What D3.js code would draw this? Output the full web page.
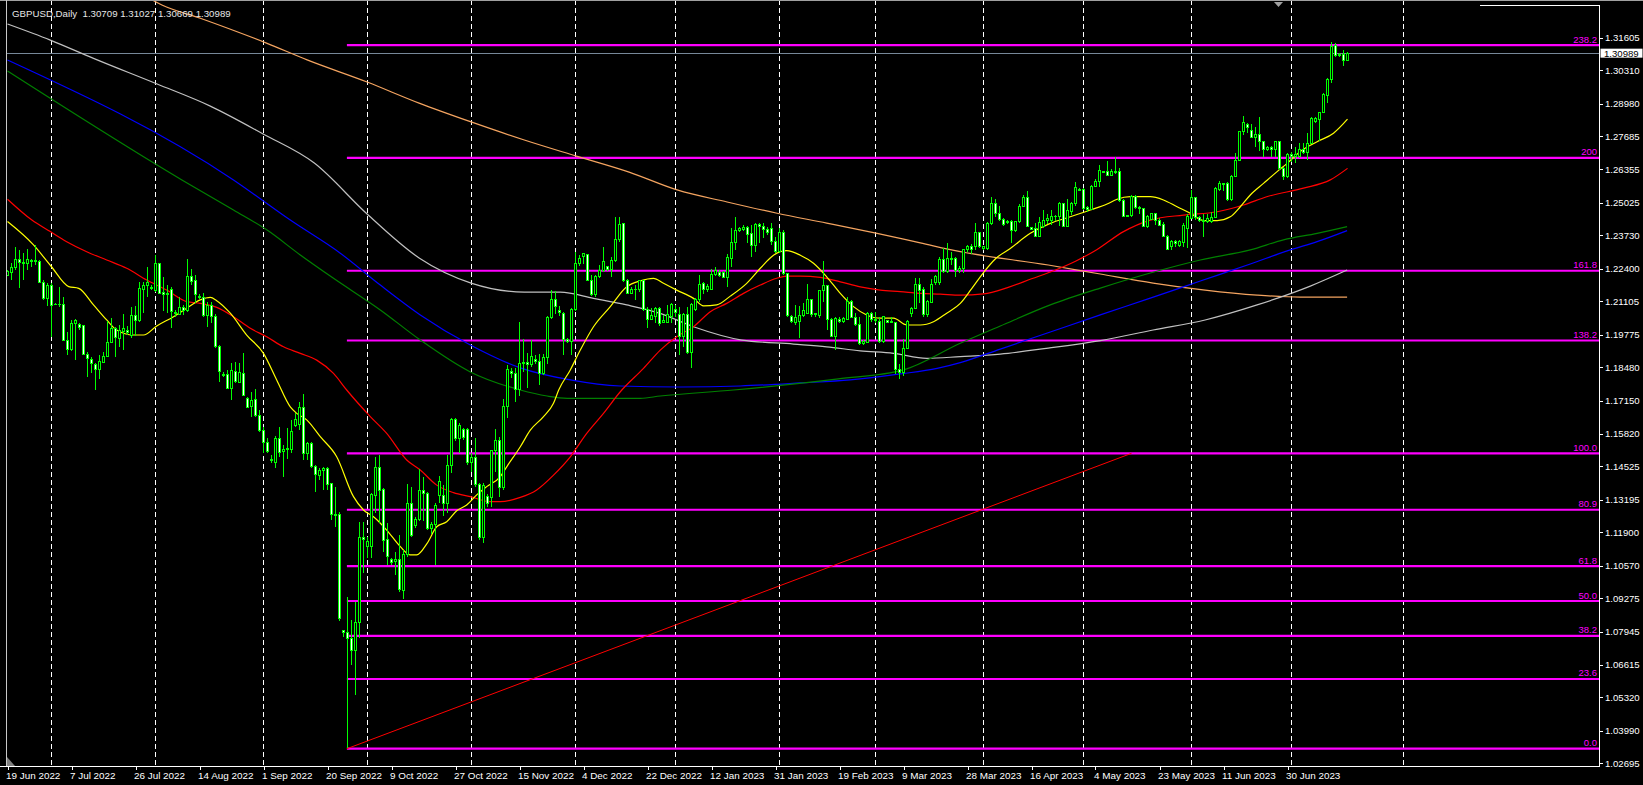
<!DOCTYPE html>
<html><head><meta charset="utf-8">
<script src="https://cdn.jsdelivr.net/npm/d3@7"></script>
<style>
html,body{margin:0;padding:0;background:#000;overflow:hidden}
svg{display:block}
text{font-family:"Liberation Sans",Arial,sans-serif;white-space:pre}
</style></head><body>
<svg id="c" width="1643" height="785"></svg>
<script>
// ---------- DATA ----------
const symbolTitle = "GBPUSD,Daily  1.30709 1.31027 1.30669 1.30989";
const lastPrice = 1.30989;
const openP=[1.2215,1.2226,1.2245,1.2277,1.2264,1.2261,1.2272,1.2267,1.2268,1.2184,1.2122,1.2175,1.2097,1.2098,1.2098,1.1956,1.1919,1.2020,1.2018,1.2014,1.1900,1.1879,1.1860,1.1839,1.1866,1.1892,1.1948,1.2002,1.1963,1.1989,1.1996,1.1976,1.2055,1.2033,1.2158,1.2172,1.2166,1.2155,1.2259,1.2144,1.2138,1.2159,1.2067,1.2059,1.2086,1.2073,1.2211,1.2195,1.2131,1.2126,1.2052,1.2095,1.2049,1.1929,1.1820,1.1820,1.1763,1.1830,1.1786,1.1823,1.1724,1.1690,1.1719,1.1657,1.1597,1.1547,1.1481,1.1467,1.1564,1.1510,1.1518,1.1518,1.1617,1.1621,1.1688,1.1502,1.1545,1.1452,1.1415,1.1436,1.1445,1.1383,1.1259,1.1262,1.0797,1.0790,1.0768,1.0721,1.0831,1.1170,1.1133,1.1133,1.1335,1.1449,1.1359,1.1162,1.1080,1.1073,1.1080,1.0960,1.1100,1.1303,1.1219,1.1242,1.1355,1.1343,1.1206,1.1222,1.1335,1.1337,1.1306,1.1458,1.1640,1.1564,1.1598,1.1598,1.1467,1.1489,1.1381,1.1170,1.1332,1.1329,1.1514,1.1554,1.1368,1.1693,1.1830,1.1822,1.1757,1.1862,1.1866,1.1860,1.1880,1.1870,1.1822,1.1888,1.2046,1.2118,1.2075,1.2060,1.1959,1.1950,1.2076,1.2259,1.2288,1.2295,1.2195,1.2136,1.2209,1.2235,1.2249,1.2238,1.2272,1.2355,1.2421,1.2193,1.2142,1.2158,1.2156,1.2193,1.2079,1.2039,1.2049,1.2083,1.2027,1.2025,1.2049,1.2076,1.2056,1.1970,1.2056,1.1906,1.2079,1.2116,1.2182,1.2156,1.2158,1.2219,1.2225,1.2225,1.2206,1.2282,1.2344,1.2392,1.2397,1.2405,1.2379,1.2331,1.2415,1.2408,1.2397,1.2401,1.2348,1.2308,1.2385,1.2222,1.2049,1.2027,1.2029,1.2052,1.2063,1.2116,1.2056,1.2052,1.2152,1.2172,1.2039,1.1972,1.2039,1.2029,1.2039,1.2109,1.2047,1.2016,1.1943,1.1946,1.2063,1.2036,1.2029,1.1950,1.2033,1.2025,1.2025,1.1837,1.1828,1.1923,1.2060,1.2083,1.2179,1.2156,1.2056,1.2105,1.2185,1.2185,1.2278,1.2229,1.2282,1.2282,1.2235,1.2240,1.2317,1.2330,1.2328,1.2383,1.2321,1.2321,1.2421,1.2500,1.2460,1.2437,1.2423,1.2427,1.2391,1.2427,1.2490,1.2524,1.2403,1.2401,1.2370,1.2410,1.2431,1.2431,1.2447,1.2447,1.2500,1.2410,1.2467,1.2498,1.2556,1.2556,1.2484,1.2476,1.2569,1.2587,1.2629,1.2629,1.2613,1.2626,1.2626,1.2511,1.2447,1.2454,1.2527,1.2484,1.2480,1.2410,1.2437,1.2460,1.2434,1.2418,1.2370,1.2328,1.2348,1.2334,1.2344,1.2401,1.2441,1.2524,1.2445,1.2434,1.2427,1.2427,1.2445,1.2556,1.2575,1.2580,1.2514,1.2609,1.2673,1.2786,1.2816,1.2792,1.2763,1.2773,1.2746,1.2715,1.2723,1.2715,1.2746,1.2640,1.2609,1.2697,1.2686,1.2689,1.2716,1.2702,1.2740,1.2826,1.2835,1.2862,1.2932,1.2995,1.3131,1.3088,1.3092,1.30709];
const highP=[1.2235,1.2261,1.2325,1.2315,1.2301,1.2317,1.2277,1.2334,1.2275,1.2195,1.2182,1.2182,1.2102,1.2168,1.2126,1.1989,1.2036,1.2041,1.2025,1.2017,1.1909,1.1890,1.1863,1.1896,1.1909,1.2033,1.2042,1.2009,1.2016,1.2058,1.2012,1.2086,1.2091,1.2188,1.2188,1.2248,1.2175,1.2295,1.2261,1.2206,1.2175,1.2168,1.2075,1.2129,1.2095,1.2277,1.2241,1.2215,1.2139,1.2142,1.2109,1.2109,1.2059,1.1936,1.1830,1.1836,1.1863,1.1870,1.1863,1.1903,1.1730,1.1750,1.1759,1.1677,1.1611,1.1564,1.1498,1.1573,1.1608,1.1538,1.1604,1.1637,1.1664,1.1710,1.1741,1.1551,1.1551,1.1458,1.1445,1.1452,1.1452,1.1388,1.1369,1.1272,1.0801,1.0934,1.0841,1.0914,1.1232,1.1232,1.1173,1.1345,1.1491,1.1498,1.1365,1.1226,1.1086,1.1113,1.1179,1.1120,1.1382,1.1372,1.1252,1.1442,1.1409,1.1352,1.1232,1.1306,1.1414,1.1379,1.1498,1.1644,1.1644,1.1624,1.1604,1.1604,1.1505,1.1564,1.1385,1.1385,1.1343,1.1518,1.1600,1.1568,1.1720,1.1855,1.1845,1.1845,1.2029,1.1962,1.1905,1.1955,1.1895,1.1900,1.1900,1.2050,1.2154,1.2153,1.2090,1.2069,1.1963,1.2083,1.2308,1.2295,1.2304,1.2295,1.2215,1.2215,1.2255,1.2326,1.2251,1.2288,1.2445,1.2445,1.2424,1.2198,1.2169,1.2176,1.2195,1.2195,1.2089,1.2083,1.2089,1.2087,1.2056,1.2096,1.2102,1.2096,1.2087,1.2063,1.2089,1.2102,1.2122,1.2215,1.2189,1.2179,1.2238,1.2246,1.2235,1.2233,1.2299,1.2401,1.2448,1.2408,1.2415,1.2411,1.2415,1.2421,1.2421,1.2421,1.2408,1.2421,1.2368,1.2401,1.2395,1.2225,1.2056,1.2096,1.2092,1.2105,1.2179,1.2118,1.2065,1.2156,1.2272,1.2176,1.2043,1.2049,1.2049,1.2049,1.2129,1.2116,1.2063,1.2049,1.1956,1.2069,1.2069,1.2069,1.2049,1.2052,1.2036,1.2047,1.2029,1.1862,1.1960,1.2036,1.2089,1.2202,1.2202,1.2169,1.2116,1.2198,1.2215,1.2288,1.2322,1.2342,1.2308,1.2288,1.2250,1.2320,1.2334,1.2340,1.2423,1.2387,1.2330,1.2427,1.2524,1.2516,1.2490,1.2441,1.2434,1.2434,1.2431,1.2498,1.2534,1.2551,1.2407,1.2421,1.2447,1.2474,1.2460,1.2474,1.2454,1.2507,1.2503,1.2516,1.2507,1.2587,1.2560,1.2560,1.2490,1.2573,1.2596,1.2653,1.2630,1.2670,1.2636,1.2684,1.2640,1.2516,1.2455,1.2534,1.2534,1.2490,1.2484,1.2454,1.2463,1.2463,1.2441,1.2427,1.2374,1.2354,1.2354,1.2354,1.2421,1.2460,1.2553,1.2527,1.2450,1.2460,1.2460,1.2467,1.2564,1.2591,1.2583,1.2587,1.2613,1.2702,1.2790,1.2848,1.2822,1.2816,1.2806,1.2843,1.2750,1.2729,1.2729,1.2750,1.2750,1.2646,1.2702,1.2706,1.2724,1.2740,1.2742,1.2780,1.2846,1.2843,1.2866,1.2939,1.2999,1.3145,1.3141,1.3098,1.3111,1.31027];
const lowP=[1.2211,1.2195,1.2235,1.2162,1.2195,1.2235,1.2248,1.2255,1.2182,1.2115,1.2091,1.1969,1.2094,1.2089,1.1953,1.1896,1.1912,1.1876,1.1996,1.1896,1.1810,1.1823,1.1757,1.1799,1.1863,1.1890,1.1943,1.1890,1.1929,1.1916,1.1976,1.1963,1.1972,1.2029,1.2062,1.2129,1.2155,1.2148,1.2142,1.2073,1.2062,1.2002,1.2049,1.2055,1.2055,1.2069,1.2175,1.2102,1.2118,1.2046,1.2006,1.2022,1.1923,1.1790,1.1810,1.1759,1.1717,1.1786,1.1783,1.1733,1.1684,1.1651,1.1651,1.1591,1.1504,1.1504,1.1465,1.1445,1.1491,1.1412,1.1481,1.1504,1.1611,1.1597,1.1478,1.1478,1.1445,1.1352,1.1399,1.1359,1.1359,1.1239,1.1213,1.0838,1.0774,1.0332,1.0661,1.0542,1.0768,1.1027,1.1086,1.1086,1.1266,1.1226,1.1113,1.1060,1.1060,1.1020,1.0954,1.0923,1.1093,1.1173,1.1206,1.1236,1.1236,1.1199,1.1183,1.1060,1.1306,1.1255,1.1266,1.1428,1.1555,1.1507,1.1558,1.1458,1.1432,1.1372,1.1159,1.1146,1.1292,1.1292,1.1432,1.1332,1.1359,1.1645,1.1805,1.1710,1.1735,1.1830,1.1764,1.1850,1.1860,1.1778,1.1815,1.1860,1.2040,1.2058,1.2050,1.1897,1.1943,1.1897,1.2073,1.2249,1.2259,1.2193,1.2132,1.2129,1.2202,1.2229,1.2233,1.2209,1.2268,1.2348,1.2189,1.2140,1.2140,1.2116,1.2149,1.2073,1.2003,1.2036,1.2023,1.2010,1.2023,1.2023,1.2023,1.2049,1.1897,1.1930,1.1901,1.1844,1.2073,1.2109,1.2140,1.2149,1.2156,1.2211,1.2209,1.2202,1.2169,1.2246,1.2315,1.2388,1.2392,1.2342,1.2288,1.2308,1.2344,1.2361,1.2375,1.2335,1.2302,1.2302,1.2215,1.2047,1.2025,1.2016,1.1963,1.2049,1.2060,1.2049,1.2047,1.2043,1.2109,1.1996,1.1970,1.1917,1.2025,1.2023,1.2036,1.2043,1.2012,1.1936,1.1936,1.1943,1.2029,1.2025,1.1946,1.1943,1.2023,1.2023,1.1820,1.1802,1.1812,1.1919,1.2049,1.2079,1.2105,1.2049,1.2049,1.2102,1.2176,1.2176,1.2222,1.2222,1.2255,1.2209,1.2225,1.2225,1.2305,1.2300,1.2314,1.2321,1.2314,1.2314,1.2414,1.2445,1.2431,1.2410,1.2418,1.2344,1.2387,1.2421,1.2487,1.2407,1.2394,1.2370,1.2368,1.2401,1.2418,1.2414,1.2430,1.2410,1.2407,1.2407,1.2454,1.2490,1.2551,1.2474,1.2467,1.2474,1.2567,1.2567,1.2622,1.2609,1.2609,1.2617,1.2507,1.2445,1.2445,1.2447,1.2480,1.2458,1.2407,1.2401,1.2434,1.2414,1.2410,1.2365,1.2314,1.2314,1.2328,1.2328,1.2328,1.2321,1.2437,1.2434,1.2427,1.2368,1.2421,1.2421,1.2441,1.2551,1.2550,1.2511,1.2511,1.2604,1.2670,1.2773,1.2782,1.2759,1.2726,1.2710,1.2684,1.2710,1.2684,1.2684,1.2633,1.2593,1.2600,1.2666,1.2660,1.2680,1.2697,1.2673,1.2737,1.2822,1.2750,1.2859,1.2902,1.2981,1.3085,1.3082,1.3048,1.30669];
const closeP=[1.2228,1.2245,1.2277,1.2264,1.2259,1.2275,1.2267,1.2271,1.2184,1.2122,1.2175,1.2095,1.2098,1.2097,1.1956,1.1919,1.2022,1.2032,1.2006,1.1900,1.1882,1.1863,1.1839,1.1870,1.1892,1.1948,1.2002,1.1967,1.1993,1.2002,1.1985,1.2055,1.2033,1.2162,1.2175,1.2184,1.2162,1.2259,1.2142,1.2137,1.2142,1.2069,1.2062,1.2086,1.2073,1.2211,1.2188,1.2139,1.2125,1.2052,1.2095,1.2049,1.1929,1.1830,1.1815,1.1763,1.1834,1.1790,1.1826,1.1737,1.1688,1.1717,1.1657,1.1595,1.1547,1.1511,1.1475,1.1564,1.1507,1.1520,1.1524,1.1591,1.1641,1.1688,1.1502,1.1545,1.1452,1.1419,1.1436,1.1445,1.1379,1.1259,1.1257,1.0845,1.0790,1.0768,1.0721,1.0831,1.1170,1.1162,1.1153,1.1339,1.1449,1.1356,1.1159,1.1093,1.1069,1.1080,1.0963,1.1100,1.1303,1.1177,1.1243,1.1356,1.1343,1.1206,1.1223,1.1295,1.1394,1.1306,1.1458,1.1640,1.1564,1.1614,1.1568,1.1467,1.1489,1.1379,1.1170,1.1376,1.1306,1.1514,1.1554,1.1368,1.1693,1.1837,1.1822,1.1757,1.1862,1.1866,1.1860,1.1890,1.1870,1.1822,1.1888,1.2046,1.2118,1.2090,1.2065,1.1959,1.1950,1.2076,1.2259,1.2282,1.2299,1.2195,1.2136,1.2211,1.2235,1.2268,1.2238,1.2272,1.2355,1.2415,1.2193,1.2142,1.2158,1.2156,1.2193,1.2076,1.2039,1.2055,1.2083,1.2023,1.2032,1.2056,1.2096,1.2065,1.1970,1.2056,1.1906,1.2096,1.2118,1.2176,1.2156,1.2169,1.2219,1.2233,1.2214,1.2206,1.2286,1.2344,1.2392,1.2401,1.2405,1.2375,1.2331,1.2415,1.2408,1.2397,1.2384,1.2348,1.2308,1.2385,1.2222,1.2052,1.2029,1.2047,1.2052,1.2073,1.2116,1.2056,1.2063,1.2152,1.2172,1.2039,1.1972,1.2043,1.2029,1.2043,1.2109,1.2047,1.2016,1.1943,1.1950,1.2060,1.2036,1.2033,1.1950,1.2049,1.2025,1.2029,1.1837,1.1828,1.1923,1.2029,1.2083,1.2179,1.2153,1.2056,1.2109,1.2179,1.2211,1.2275,1.2229,1.2282,1.2275,1.2235,1.2240,1.2317,1.2330,1.2318,1.2383,1.2328,1.2328,1.2421,1.2500,1.2460,1.2437,1.2418,1.2427,1.2394,1.2427,1.2490,1.2524,1.2410,1.2398,1.2370,1.2423,1.2431,1.2441,1.2447,1.2450,1.2500,1.2410,1.2474,1.2498,1.2564,1.2553,1.2480,1.2476,1.2569,1.2587,1.2633,1.2625,1.2613,1.2626,1.2622,1.2511,1.2447,1.2454,1.2527,1.2484,1.2479,1.2410,1.2447,1.2460,1.2434,1.2414,1.2368,1.2317,1.2348,1.2340,1.2348,1.2414,1.2447,1.2524,1.2445,1.2431,1.2427,1.2441,1.2445,1.2560,1.2580,1.2580,1.2514,1.2609,1.2673,1.2786,1.2822,1.2803,1.2763,1.2773,1.2746,1.2715,1.2723,1.2715,1.2746,1.2640,1.2609,1.2697,1.2686,1.2697,1.2716,1.2702,1.2740,1.2839,1.2839,1.2862,1.2936,1.2995,1.3127,1.3088,1.3092,1.3069,1.30989];

const yTickLabels=["1.31605","1.30310","1.28980","1.27685","1.26355","1.25025","1.23730","1.22400","1.21105","1.19775","1.18480","1.17150","1.15820","1.14525","1.13195","1.11900","1.10570","1.09275","1.07945","1.06615","1.05320","1.03990","1.02695"];
const xLabelText=["19 Jun 2022","7 Jul 2022","26 Jul 2022","14 Aug 2022","1 Sep 2022","20 Sep 2022","9 Oct 2022","27 Oct 2022","15 Nov 2022","4 Dec 2022","22 Dec 2022","12 Jan 2023","31 Jan 2023","19 Feb 2023","9 Mar 2023","28 Mar 2023","16 Apr 2023","4 May 2023","23 May 2023","11 Jun 2023","30 Jun 2023"];
const xLabelBar=[0,16,32,48,64,80,96,112,128,144,160,176,192,208,224,240,256,272,288,304,320];
const gridBars=[11,37,64,90,116,142,167,193,217,244,269,296,321,349];

const fibRatios=[0,23.6,38.2,50,61.8,80.9,100,138.2,161.8,200,238.2];
const fibText=["0.0","23.6","38.2","50.0","61.8","80.9","100.0","138.2","161.8","200","238.2"];
const fibPrice0=1.03279, fibPrice100=1.15047, fibStartBar=84.85, trendEndBar=281;

const maYellow=[[0,1.2428],[6.5,1.2335],[11,1.2248],[15.3,1.2169],[17.8,1.2162],[21.5,1.2096],[24.8,1.2036],[27.3,1.1996],[31.5,1.1976],[34,1.1976],[37.3,1.2012],[41.5,1.2049],[44.8,1.2083],[48.2,1.2116],[50.7,1.2126],[52.3,1.2113],[55.7,1.2063],[59.8,1.1976],[64,1.1903],[67.3,1.1797],[70.7,1.1690],[72.3,1.1664],[74.8,1.1638],[78.2,1.1571],[82.3,1.1491],[86.5,1.1332],[89,1.1279],[91.5,1.1252],[94.8,1.1199],[98.2,1.1133],[100.7,1.1100],[102.3,1.1100],[104.9,1.1146],[107.3,1.1212],[109.8,1.1232],[112.3,1.1276],[114.8,1.1299],[117.3,1.1339],[119.8,1.1372],[123.2,1.1412],[124.8,1.1451],[128.2,1.1531],[130.7,1.1597],[134,1.1651],[136.5,1.1704],[137.8,1.1757],[140.7,1.1837],[143.2,1.1916],[146.5,1.2009],[150.7,1.2089],[154.8,1.2168],[158.2,1.2192],[161.5,1.2202],[164,1.2182],[167.3,1.2155],[171.5,1.2122],[174,1.2092],[177.3,1.2096],[180.7,1.2131],[184.8,1.2182],[188.2,1.2242],[191.5,1.2294],[194.8,1.2312],[198.2,1.2294],[201.5,1.2262],[204.8,1.2208],[208.2,1.2142],[211.5,1.2089],[214.8,1.2056],[218.2,1.2043],[221.5,1.2043],[224.8,1.2016],[228.2,1.2016],[231.5,1.2029],[234.8,1.2063],[238.2,1.2102],[241,1.2160],[244,1.2225],[247,1.2280],[250.7,1.2321],[255.7,1.2381],[260.7,1.2421],[265.7,1.2447],[270.7,1.2474],[274.9,1.2498],[277.4,1.2517],[280.7,1.2527],[285.7,1.2527],[289,1.2514],[292.4,1.2487],[295.7,1.2461],[299,1.2432],[302.4,1.2432],[305.7,1.2447],[308.2,1.2487],[310.7,1.2534],[314,1.2580],[317.4,1.2627],[319.9,1.2660],[323.2,1.2707],[327.4,1.2746],[331.5,1.2780],[335,1.2836]];
const maRed=[[0,1.2517],[6.1,1.2434],[10.7,1.2388],[14.8,1.2348],[19.8,1.2308],[24.8,1.2275],[29.8,1.2242],[34.8,1.2195],[39.8,1.2155],[44.8,1.2109],[48.2,1.2102],[52.3,1.2086],[56.5,1.2049],[60.7,1.2003],[64.8,1.1969],[69,1.1929],[73.2,1.1903],[77.3,1.1876],[81.5,1.1823],[84.8,1.1757],[90.7,1.1651],[94.8,1.1584],[99.8,1.1478],[103.2,1.1438],[107.3,1.1378],[111.5,1.1348],[115.7,1.1332],[120.7,1.1312],[123.2,1.1312],[128.2,1.1329],[132.3,1.1359],[136.5,1.1418],[140.7,1.1491],[144.8,1.1584],[149,1.1664],[153.2,1.1750],[159,1.1843],[163.2,1.1916],[167.3,1.1969],[171.5,1.2009],[175.7,1.2069],[179.8,1.2102],[184,1.2142],[188.2,1.2175],[192.3,1.2202],[194.8,1.2211],[198.2,1.2211],[203.2,1.2206],[208.2,1.2188],[213.2,1.2168],[218.2,1.2155],[223.2,1.2149],[228.2,1.2142],[233.2,1.2139],[238.2,1.2135],[244,1.2140],[250,1.2165],[256,1.2200],[262,1.2235],[267,1.2270],[272.3,1.2316],[279,1.2388],[285.7,1.2434],[294,1.2454],[302.4,1.2467],[309,1.2494],[314.8,1.2527],[324,1.2561],[330.7,1.2594],[335,1.2640]];
const maGreen=[[0,1.3028],[43.6,1.2594],[56.5,1.2474],[64.9,1.2394],[73.2,1.2295],[81.5,1.2202],[93.2,1.2076],[103.2,1.1956],[115.7,1.1829],[128.2,1.1757],[134.9,1.1733],[139.9,1.1724],[158.2,1.1724],[163.2,1.1733],[181.5,1.1757],[207.7,1.1801],[224,1.1837],[238.2,1.1943],[248.2,1.2012],[260.7,1.2096],[273.2,1.2163],[285.7,1.2223],[298.2,1.2275],[310.7,1.2315],[319,1.2355],[327.4,1.2381],[334.9,1.2408]];
const maBlue=[[0,1.3072],[56.5,1.2594],[70.7,1.2434],[83.2,1.2302],[93.2,1.2175],[103.2,1.2056],[115.7,1.1936],[128.2,1.1845],[140.7,1.1797],[153.2,1.1773],[168.2,1.1769],[183.2,1.1773],[198.2,1.1785],[210.7,1.1797],[223.2,1.1821],[232.4,1.1843],[238.2,1.1866],[248.2,1.1920],[260.7,1.1988],[273.2,1.2056],[285.7,1.2123],[298.2,1.2191],[310.7,1.2259],[320.7,1.2315],[327.4,1.2348],[334.9,1.2392]];
const maSilver=[[0,1.3215],[10.7,1.3151],[21.5,1.3078],[37.4,1.2976],[50.7,1.2888],[63.9,1.2777],[76.7,1.2661],[89.9,1.2458],[102.9,1.2283],[115.9,1.2183],[129.2,1.2147],[138.2,1.2147],[146.5,1.2122],[154.8,1.2096],[163.2,1.2062],[171.5,1.2009],[183.6,1.1956],[196.5,1.1940],[204.8,1.1929],[213.2,1.1913],[221.5,1.1903],[229.8,1.1883],[238.2,1.1890],[248.2,1.1900],[260.2,1.1924],[273.2,1.1954],[286.4,1.1996],[299.4,1.2036],[312.4,1.2096],[325.7,1.2171],[334.9,1.2235]];
const maOrange=[[34,1.3330],[38.6,1.3291],[48.2,1.3238],[64.9,1.3138],[74.9,1.3072],[89.9,1.2984],[102.9,1.2900],[115.9,1.2825],[129.2,1.2753],[142.2,1.2689],[155.4,1.2625],[167.4,1.2554],[179.9,1.2506],[192.4,1.2461],[204.8,1.2422],[217.4,1.2381],[228.2,1.2343],[238.2,1.2308],[260.2,1.2255],[273.2,1.2219],[286.4,1.2183],[299.4,1.2155],[312.4,1.2135],[323.2,1.2127],[334.9,1.2127]];

// ---------- DRAW ----------
const W=1643,H=785, L=7, R=1599.5, T=5, B=766;
const svg=d3.select("#c");
svg.append("rect").attr("width",W).attr("height",H).attr("fill","#000");
const x=d3.scaleLinear().domain([0,398]).range([7.5,7.5+4*398]);
const y=d3.scaleLinear().domain([1.02590,1.32908]).range([B,T]);

svg.append("defs").append("clipPath").attr("id","plot")
  .append("rect").attr("x",L).attr("y",0).attr("width",R-L).attr("height",B);

const plot=svg.append("g").attr("clip-path","url(#plot)");

// grid
plot.append("g").selectAll("line").data(gridBars).join("line")
  .attr("x1",d=>x(d)).attr("x2",d=>x(d)).attr("y1",0).attr("y2",B)
  .attr("stroke","#ffffff").attr("stroke-width",1).attr("stroke-dasharray","5,3")
  .attr("shape-rendering","crispEdges");

// bid line
plot.append("line").attr("x1",L).attr("x2",R).attr("y1",Math.round(y(lastPrice))+0.5).attr("y2",Math.round(y(lastPrice))+0.5)
  .attr("stroke","#778899").attr("stroke-width",1);

// fib lines
const fibP=r=>fibPrice0+(fibPrice100-fibPrice0)*r/100;
plot.append("g").selectAll("line").data(fibRatios).join("line")
  .attr("x1",x(fibStartBar)).attr("x2",R).attr("y1",d=>y(fibP(d))).attr("y2",d=>y(fibP(d)))
  .attr("stroke","#ff00ff").attr("stroke-width",2.2);
// trend line
plot.append("line").attr("x1",x(fibStartBar)).attr("y1",y(fibPrice0)).attr("x2",x(trendEndBar)).attr("y2",y(fibPrice100))
  .attr("stroke","#ff0000").attr("stroke-width",1);

// moving averages
const line=d3.line().x(d=>x(d[0])).y(d=>y(d[1])).curve(d3.curveMonotoneX);
[[maOrange,"#f4a460"],[maSilver,"#c0c0c0"],[maBlue,"#0000ff"],[maGreen,"#008000"],[maRed,"#ff0000"],[maYellow,"#ffff00"]]
 .forEach(([d,c])=>plot.append("path").attr("d",line(d)).attr("fill","none").attr("stroke",c).attr("stroke-width",1.2));

// candles
const idx=d3.range(closeP.length);
const cg=plot.append("g").attr("shape-rendering","crispEdges");
cg.selectAll("line").data(idx).join("line")
  .attr("x1",i=>x(i)).attr("x2",i=>x(i)).attr("y1",i=>y(highP[i])).attr("y2",i=>y(lowP[i]))
  .attr("stroke","#00ff00").attr("stroke-width",1);
cg.selectAll("rect").data(idx).join("rect")
  .attr("x",i=>x(i)-1).attr("width",2)
  .attr("y",i=>y(Math.max(openP[i],closeP[i])))
  .attr("height",i=>Math.max(0.01,Math.abs(y(openP[i])-y(closeP[i]))))
  .attr("fill",i=>closeP[i]>=openP[i]?"#000000":"#ffffff")
  .attr("stroke","#00ff00").attr("stroke-width",1);

// fib labels
plot.append("g").selectAll("text").data(fibRatios).join("text")
  .attr("x",1597).attr("y",d=>y(fibP(d))-2.5).attr("text-anchor","end")
  .attr("font-size",9.5).attr("fill","#ff00ff").text((d,i)=>fibText[i]);

// frame
svg.append("line").attr("x1",0).attr("x2",W).attr("y1",0.5).attr("y2",0.5).attr("stroke","#a0a0a0");
svg.append("line").attr("x1",6.5).attr("x2",6.5).attr("y1",0).attr("y2",B).attr("stroke","#c8c8c8");
svg.append("line").attr("x1",R).attr("x2",R).attr("y1",T).attr("y2",B+0.5).attr("stroke","#ffffff");
svg.append("line").attr("x1",0).attr("x2",R+0.5).attr("y1",B+0.5).attr("y2",B+0.5).attr("stroke","#ffffff");
svg.append("line").attr("x1",1480).attr("x2",R).attr("y1",T+0.5).attr("y2",T+0.5).attr("stroke","#ffffff");

// y axis
const yt=svg.append("g");
yt.selectAll("line").data(yTickLabels).join("line")
  .attr("x1",R).attr("x2",R+3.5).attr("y1",d=>Math.round(y(+d))+0.5).attr("y2",d=>Math.round(y(+d))+0.5).attr("stroke","#fff");
yt.selectAll("text").data(yTickLabels).join("text")
  .attr("x",1605).attr("y",d=>y(+d)+3.4).attr("font-size",9.6).attr("fill","#fff").text(d=>d);
// price box
const py=y(lastPrice);
svg.append("rect").attr("x",1600.5).attr("y",py-4.5).attr("width",42).attr("height",9).attr("fill","#fff");
svg.append("text").attr("x",1604).attr("y",py+3.4).attr("font-size",9.6).attr("fill","#000").text(lastPrice.toFixed(5));

// x axis
const xt=svg.append("g");
xt.selectAll("line").data(xLabelBar).join("line")
  .attr("x1",d=>Math.round(x(d))+0.5).attr("x2",d=>Math.round(x(d))+0.5).attr("y1",B).attr("y2",B+4).attr("stroke","#fff");
xt.selectAll("text").data(xLabelBar).join("text")
  .attr("x",d=>x(d)-1.5).attr("y",779).attr("font-size",9.9).attr("fill","#fff").text((d,i)=>xLabelText[i]);

// markers
svg.append("polygon").attr("points","1274,2 1283,2 1278.5,7").attr("fill","#a0a0a0");
svg.append("polygon").attr("points","7,757 7,766 15,766").attr("fill","#808080");

// title
svg.append("text").attr("x",12).attr("y",17).attr("font-size",9.7).attr("fill","#e6e6e6").text(symbolTitle);
</script>
</body></html>
